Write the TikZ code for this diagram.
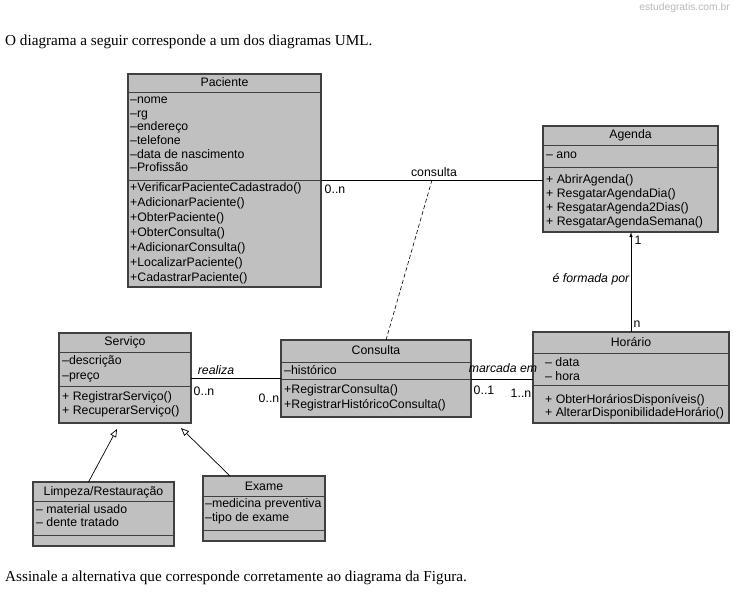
\documentclass[tikz,border=0pt]{standalone}
\usepackage{fontspec}
\setmainfont{Liberation Sans}
\newfontfamily\seriffont{Liberation Serif}
\usetikzlibrary{arrows.meta}
\definecolor{boxgray}{HTML}{C0C0C0}
\definecolor{edgegray}{HTML}{404040}
\tikzset{
  classbox/.style={draw=edgegray, line width=1.1pt, fill=boxgray, anchor=north west, inner sep=0pt, outer sep=0pt},
  divider/.style={draw=edgegray, line width=0.9pt},
  fixh/.style={text height=8.8pt, text depth=1.8pt},
  txt/.style={inner sep=0pt, fixh, anchor=west, font=\fontsize{12.3}{14}\selectfont},
  ttl/.style={inner sep=0pt, fixh, anchor=center, font=\fontsize{12.3}{14}\selectfont},
  lbl/.style={inner sep=0pt, fixh, font=\fontsize{12.3}{14}\selectfont},
  ilbl/.style={inner sep=0pt, fixh, font=\fontsize{12.3}{14}\selectfont\itshape},
  conn/.style={draw=black, line width=0.8pt},
  gen/.style={draw=black, line width=0.7pt, -{Triangle[open,length=8pt,width=6.5pt]}},
}
\begin{document}
\begin{tikzpicture}[x=1pt,y=-1pt]
\useasboundingbox[fill=white] (0,0) rectangle (734,594);

% header / footer texts
\node[inner sep=0pt, anchor=east, text=gray!55, font=\fontsize{10.3}{12}\selectfont] (wm) at (730,8) {estudegratis.com.br};
\node[inner sep=0pt, anchor=west, font=\seriffont\fontsize{15.2}{17}\selectfont] (intro) at (5,42) {O diagrama a seguir corresponde a um dos diagramas UML.};
\node[inner sep=0pt, anchor=west, font=\seriffont\fontsize{15.2}{17}\selectfont] (outro) at (5,578) {Assinale a alternativa que corresponde corretamente ao diagrama da Figura.};

% ---------- Paciente ----------
\node[classbox, minimum width=193, minimum height=213] (pac) at (128,74) {};
\draw[divider] (128,92) -- (321,92);
\draw[divider] (128,180) -- (321,180);
\node[ttl] (pact) at (224.5,83) {Paciente};
\node[txt] (pa1) at (130,100) {–nome};
\node[txt] (pa2) at (130,114) {–rg};
\node[txt] (pa3) at (130,127) {–endereço};
\node[txt] (pa4) at (130,141) {–telefone};
\node[txt] (pa5) at (130,155) {–data de nascimento};
\node[txt] (pa6) at (130,168) {–Profissão};
\node[txt] (pm1) at (130,188) {+VerificarPacienteCadastrado()};
\node[txt] (pm2) at (130,203) {+AdicionarPaciente()};
\node[txt] (pm3) at (130,218) {+ObterPaciente()};
\node[txt] (pm4) at (130,233) {+ObterConsulta()};
\node[txt] (pm5) at (130,248) {+AdicionarConsulta()};
\node[txt] (pm6) at (130,263) {+LocalizarPaciente()};
\node[txt] (pm7) at (130,278) {+CadastrarPaciente()};

% ---------- Agenda ----------
\node[classbox, minimum width=175, minimum height=106] (ag) at (543,126) {};
\draw[divider] (543,145) -- (718,145);
\draw[divider] (543,167) -- (718,167);
\node[ttl] (agt) at (630.5,135) {Agenda};
\node[txt] (aa1) at (546,155) {– ano};
\node[txt] (am1) at (546,180) {+ AbrirAgenda()};
\node[txt] (am2) at (546,194) {+ ResgatarAgendaDia()};
\node[txt] (am3) at (546,208) {+ ResgatarAgenda2Dias()};
\node[txt] (am4) at (546,222) {+ ResgatarAgendaSemana()};

% ---------- Servico ----------
\node[classbox, minimum width=132, minimum height=90] (serv) at (59,333) {};
\draw[divider] (59,352) -- (191,352);
\draw[divider] (59,386) -- (191,386);
\node[ttl] (servt) at (125,342) {Serviço};
\node[txt] (sa1) at (62,361) {–descrição};
\node[txt] (sa2) at (62,376) {–preço};
\node[txt] (sm1) at (62,397) {+ RegistrarServiço()};
\node[txt] (sm2) at (62,411) {+ RecuperarServiço()};

% ---------- Consulta ----------
\node[classbox, minimum width=190, minimum height=77] (cons) at (281,340) {};
\draw[divider] (281,362) -- (471,362);
\draw[divider] (281,379) -- (471,379);
\node[ttl] (const) at (376,351) {Consulta};
\node[txt] (ca1) at (284,371) {–histórico};
\node[txt] (cm1) at (284,390) {+RegistrarConsulta()};
\node[txt] (cm2) at (284,405) {+RegistrarHistóricoConsulta()};

% ---------- Horario ----------
\node[classbox, minimum width=196, minimum height=91] (hor) at (533,332) {};
\draw[divider] (533,353) -- (729,353);
\draw[divider] (533,385) -- (729,385);
\node[ttl] (hort) at (631,343) {Horário};
\node[txt] (ha1) at (545,363) {– data};
\node[txt] (ha2) at (545,377) {– hora};
\node[txt] (hm1) at (545,400) {+ ObterHoráriosDisponíveis()};
\node[txt] (hm2) at (545,413) {+ AlterarDisponibilidadeHorário()};

% ---------- Limpeza/Restauracao ----------
\node[classbox, minimum width=141, minimum height=64] (limp) at (33,482) {};
\draw[divider] (33,501) -- (174,501);
\draw[divider] (33,535) -- (174,535);
\node[ttl] (limpt) at (103.5,492) {Limpeza/Restauração};
\node[txt] (la1) at (36,510) {– material usado};
\node[txt] (la2) at (36,523) {– dente tratado};

% ---------- Exame ----------
\node[classbox, minimum width=122, minimum height=65] (ex) at (203,476) {};
\draw[divider] (203,496) -- (325,496);
\draw[divider] (203,530) -- (325,530);
\node[ttl] (ext) at (264,487) {Exame};
\node[txt] (ea1) at (205,504) {–medicina preventiva};
\node[txt] (ea2) at (205,518) {–tipo de exame};

% ---------- connectors ----------
\coordinate (assoc) at (432,180);
\draw[conn] (pac.east |- 0,180) -- (ag.west |- 0,180);
\draw[conn, dashed, line width=0.6pt, dash pattern=on 4pt off 2.5pt] (assoc) -- ([xshift=10pt]cons.north);
\draw[conn] (serv.east |- 0,378) -- (cons.west |- 0,378);
\draw[conn] (cons.east |- 0,379) -- (hor.west |- 0,379);
\draw[conn, -{Latex[length=5pt,width=3.5pt]}] (hor.north) -- (hor.north |- ag.south);
\coordinate (limptip) at (117,429);
\coordinate (extip) at (181,428);
\draw[gen] ([xshift=-15pt]limp.north) -- (limptip);
\draw[gen] ([xshift=-34pt]ex.north) -- (extip);

% ---------- labels ----------
\node[lbl] (l1) at (434,173) {consulta};
\node[lbl] (l2) at (335,190) {0..n};
\node[ilbl] (l3) at (216,371) {realiza};
\node[lbl] (l4) at (204,392) {0..n};
\node[lbl] (l5) at (269,399) {0..n};
\node[ilbl] (l6) at (503,369) {marcada em};
\node[lbl] (l7) at (484,391) {0..1};
\node[lbl] (l8) at (521,394) {1..n};
\node[ilbl] (l9) at (591,279) {é formada por};
\node[lbl] (l10) at (638,241) {1};
\node[lbl] (l11) at (637,324) {n};
\end{tikzpicture}
\end{document}
